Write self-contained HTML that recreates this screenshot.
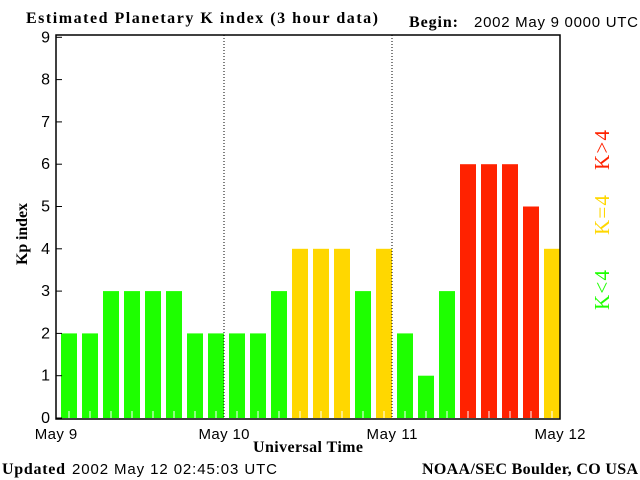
<!DOCTYPE html>
<html><head><meta charset="utf-8"><style>
body{margin:0;background:#fff;width:640px;height:480px;overflow:hidden}
svg{display:block}
.s{font-family:"Liberation Sans",sans-serif;font-size:15px}
.b{font-family:"Liberation Serif",serif;font-weight:bold;font-size:16px}
</style></head><body>
<svg id="c" width="640" height="480">
<text class="b" x="26" y="23" textLength="352" lengthAdjust="spacing">Estimated Planetary K index (3 hour data)</text>
<text class="b" x="409" y="27" textLength="49">Begin:</text>
<text class="s" x="474" y="27" textLength="164">2002 May 9 0000 UTC</text>
<g id="bars"></g>
<rect x="56" y="35" width="504" height="384" fill="none" stroke="#000" stroke-width="1.5"/>
<g id="yt"></g>
<g id="xt"></g>
<text class="b" x="253" y="452" textLength="110">Universal Time</text>
<text class="b" transform="translate(27,234) rotate(-90)" text-anchor="middle" textLength="62">Kp index</text>
<text class="b" transform="translate(609,290) rotate(-90)" text-anchor="middle" textLength="40" fill="#1eff00" style="font-size:21px;font-weight:normal">K&lt;4</text>
<text class="b" transform="translate(609,215) rotate(-90)" text-anchor="middle" textLength="40" fill="#ffd700" style="font-size:21px;font-weight:normal">K=4</text>
<text class="b" transform="translate(609,150) rotate(-90)" text-anchor="middle" textLength="40" fill="#ff2200" style="font-size:21px;font-weight:normal">K&gt;4</text>
<text class="b" x="2" y="474" textLength="63">Updated</text>
<text class="s" x="72" y="474" textLength="205">2002 May 12 02:45:03 UTC</text>
<text class="b" x="422" y="474" textLength="216">NOAA/SEC Boulder, CO USA</text>
</svg>
<script>
const kpValues=[2,2,3,3,3,3,2,2,2,2,3,4,4,4,3,4,2,1,3,6,6,6,5,4];
const yTicks=[0,1,2,3,4,5,6,7,8,9];
const dayLabels=["May 9","May 10","May 11","May 12"];
const NS="http://www.w3.org/2000/svg";
const L=56,R=560,Y0=418,U=42.3;
const y=v=>Y0-v*U;
const slot=(R-L)/kpValues.length;
const xs=i=>L+i*slot;
function mk(t,a,p){const e=document.createElementNS(NS,t);for(const k in a)e.setAttribute(k,a[k]);p.appendChild(e);return e;}
const bars=document.getElementById('bars');
kpValues.forEach((v,i)=>{
 const col=v<4?'#1eff00':v==4?'#ffd700':'#ff2200';
 const r=mk('rect',{x:xs(i)+5,y:y(v),width:slot-5,height:Y0-y(v),fill:col},bars);
 
 
 const t=mk('line',{x1:xs(i)+13,x2:xs(i)+13,y1:Y0,y2:Y0-7,stroke:'#fff'},bars);
 
 
});
const yt=document.getElementById('yt');
yTicks.forEach(v=>{
 const l=mk('line',{x1:L,x2:L+6,y1:y(v),y2:y(v),stroke:'#000'},yt);
 
 
 const t=mk('text',{x:L-6,y:y(v)+5,'text-anchor':'end',class:'s',style:'font-size:16px'},yt);
 t.textContent=v;
 
 
});
const xt=document.getElementById('xt');
const dayW=(R-L)/(dayLabels.length-1);
dayLabels.forEach((d,i)=>{
 const x=L+i*dayW;
 if(i>0&&i<dayLabels.length-1){
  const l=mk('line',{x1:x,x2:x,y1:35,y2:Y0,stroke:'#000','stroke-dasharray':'1,2'},xt);
  
  
 }
 const t=mk('text',{x:x,y:439,'text-anchor':'middle',class:'s',textLength:d.length*8.5},xt);
 t.textContent=d;
 
 
});
</script>
</body></html>
